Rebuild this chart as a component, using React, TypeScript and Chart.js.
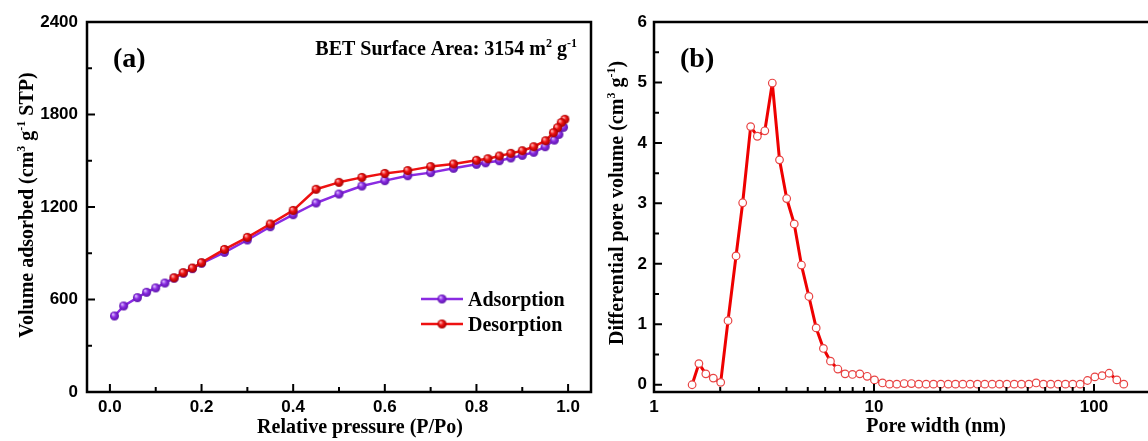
import React, { useEffect, useRef } from 'react';
import { Chart, registerables } from 'chart.js';

Chart.register(...registerables);

// ---------- Panel (a): N2 isotherm ----------
const ADS_P = [0.01, 0.03, 0.06, 0.08, 0.10, 0.12, 0.14, 0.16, 0.18, 0.20, 0.25, 0.30, 0.35, 0.40, 0.45, 0.50, 0.55, 0.60, 0.65, 0.70, 0.75, 0.80, 0.82, 0.85, 0.875, 0.90, 0.925, 0.95, 0.97, 0.98, 0.99];
const ADS_V = [493, 558, 612, 647, 675, 707, 738, 770, 800, 835, 906, 986, 1072, 1150, 1226, 1284, 1336, 1371, 1403, 1423, 1451, 1477, 1487, 1500, 1518, 1535, 1555, 1591, 1634, 1671, 1717];
const DES_P = [0.993, 0.985, 0.977, 0.968, 0.951, 0.925, 0.90, 0.875, 0.85, 0.825, 0.80, 0.75, 0.70, 0.65, 0.60, 0.55, 0.50, 0.45, 0.40, 0.35, 0.30, 0.25, 0.20, 0.18, 0.16, 0.14];
const DES_V = [1769, 1747, 1714, 1682, 1630, 1591, 1565, 1548, 1531, 1513, 1503, 1479, 1462, 1436, 1418, 1392, 1360, 1315, 1178, 1090, 1003, 925, 839, 804, 774, 741];

const A_X_TICKS = [0, 0.2, 0.4, 0.6, 0.8, 1.0];
const A_X_MINOR = [0.1, 0.3, 0.5, 0.7, 0.9];
const A_Y_TICKS = [0, 600, 1200, 1800, 2400];
const A_Y_MINOR = [300, 900, 1500, 2100];

// ---------- Panel (b): pore size distribution ----------
const PORE_W = [1.49, 1.60, 1.72, 1.86, 2.01, 2.17, 2.36, 2.53, 2.75, 2.95, 3.19, 3.45, 3.72, 4.01, 4.34, 4.68, 5.06, 5.46, 5.89, 6.34, 6.85, 7.39, 7.98, 8.62, 9.31, 10.05, 10.93, 11.76, 12.70, 13.71, 14.80, 15.98, 17.26, 18.64, 20.13, 21.74, 23.47, 25.34, 27.36, 29.54, 31.90, 34.45, 37.2, 40.2, 43.4, 46.8, 50.6, 54.6, 58.9, 63.6, 68.7, 74.2, 80.1, 86.5, 93.4, 100.9, 108.9, 117.2, 127.0, 136.6];
const DPV = [0, 0.35, 0.18, 0.11, 0.04, 1.06, 2.13, 3.01, 4.27, 4.11, 4.20, 4.99, 3.72, 3.08, 2.66, 1.98, 1.46, 0.94, 0.60, 0.39, 0.26, 0.18, 0.17, 0.18, 0.14, 0.08, 0.03, 0.01, 0.01, 0.02, 0.02, 0.01, 0.01, 0.01, 0.01, 0.01, 0.01, 0.01, 0.01, 0.01, 0.01, 0.01, 0.01, 0.01, 0.01, 0.01, 0.01, 0.03, 0.01, 0.01, 0.01, 0.01, 0.01, 0.01, 0.07, 0.13, 0.15, 0.19, 0.08, 0.01];

const B_X_TICKS = [1, 10, 100];
const B_X_MINOR = [2, 3, 4, 5, 6, 7, 8, 9, 20, 30, 40, 50, 60, 70, 80, 90];
const B_Y_TICKS = [0, 1, 2, 3, 4, 5, 6];
const B_Y_MINOR = [0.5, 1.5, 2.5, 3.5, 4.5, 5.5];

const SERIF = '"Liberation Serif", "Times New Roman", serif';
const SANS = '"Liberation Sans", Arial, sans-serif';
const PURPLE = '#8a2be2';
const RED = '#ee1111';

type Seg = { t: string; sup?: boolean };

function drawRich(ctx: CanvasRenderingContext2D, segs: Seg[], x: number, y: number, size: number, align: 'left' | 'center' | 'right') {
  ctx.save();
  const supSize = Math.round(size * 0.6);
  const widths = segs.map((s) => {
    ctx.font = `bold ${s.sup ? supSize : size}px ${SERIF}`;
    return ctx.measureText(s.t).width;
  });
  const total = widths.reduce((a, b) => a + b, 0);
  let cx = align === 'left' ? x : align === 'center' ? x - total / 2 : x - total;
  ctx.textAlign = 'left';
  ctx.textBaseline = 'alphabetic';
  ctx.fillStyle = '#000';
  segs.forEach((s, i) => {
    ctx.font = `bold ${s.sup ? supSize : size}px ${SERIF}`;
    ctx.fillText(s.t, cx, s.sup ? y - size * 0.42 : y);
    cx += widths[i];
  });
  ctx.restore();
}

function makeSphere(base: string, light: string, dark: string, r: number): HTMLCanvasElement {
  const c = document.createElement('canvas');
  const s = Math.ceil(r * 2 + 2);
  c.width = s;
  c.height = s;
  const g = c.getContext('2d')!;
  const cx = s / 2;
  const grad = g.createRadialGradient(cx - r * 0.35, cx - r * 0.4, r * 0.1, cx, cx, r);
  grad.addColorStop(0, light);
  grad.addColorStop(0.45, base);
  grad.addColorStop(1, dark);
  g.fillStyle = grad;
  g.beginPath();
  g.arc(cx, cx, r, 0, Math.PI * 2);
  g.fill();
  return c;
}

function tickFont(): any {
  return { family: SANS, size: 17, weight: 'bold' };
}

export default function App() {
  const refA = useRef<HTMLCanvasElement>(null);
  const refB = useRef<HTMLCanvasElement>(null);

  useEffect(() => {
    const purpleSphere = makeSphere(PURPLE, '#d9b8ff', '#5a14a8', 4.5);
    const redSphere = makeSphere(RED, '#ffb0b0', '#a00000', 4.5);

    const panelA = {
      id: 'panelA',
      afterDraw(chart: any) {
        const ctx: CanvasRenderingContext2D = chart.ctx;
        const { left, right, top, bottom } = chart.chartArea;
        const xs = chart.scales.x;
        const ys = chart.scales.y;
        ctx.save();
        ctx.strokeStyle = '#000';
        ctx.lineWidth = 2.5;
        ctx.strokeRect(left, top, right - left, bottom - top);
        ctx.lineWidth = 2;
        ctx.beginPath();
        A_X_TICKS.forEach((v) => { const p = xs.getPixelForValue(v); ctx.moveTo(p, bottom); ctx.lineTo(p, bottom - 8); });
        A_X_MINOR.forEach((v) => { const p = xs.getPixelForValue(v); ctx.moveTo(p, bottom); ctx.lineTo(p, bottom - 5); });
        A_Y_TICKS.forEach((v) => { const p = ys.getPixelForValue(v); ctx.moveTo(left, p); ctx.lineTo(left + 8, p); });
        A_Y_MINOR.forEach((v) => { const p = ys.getPixelForValue(v); ctx.moveTo(left, p); ctx.lineTo(left + 5, p); });
        ctx.stroke();

        drawRich(ctx, [{ t: 'Relative pressure (P/Po)' }], 360, 433, 20, 'center');
        ctx.save();
        ctx.translate(33, 205);
        ctx.rotate(-Math.PI / 2);
        drawRich(ctx, [{ t: 'Volume adsorbed (cm' }, { t: '3', sup: true }, { t: ' g' }, { t: '-1', sup: true }, { t: ' STP)' }], 0, 0, 20, 'center');
        ctx.restore();

        drawRich(ctx, [{ t: '(a)' }], 113, 67, 28, 'left');
        drawRich(ctx, [{ t: 'BET Surface Area: 3154 m' }, { t: '2', sup: true }, { t: ' g' }, { t: '-1', sup: true }], 577, 55, 20, 'right');

        const items = [
          { label: 'Adsorption', color: PURPLE, img: purpleSphere, y: 299 },
          { label: 'Desorption', color: RED, img: redSphere, y: 324 },
        ];
        items.forEach((it) => {
          ctx.strokeStyle = it.color;
          ctx.lineWidth = 2.5;
          ctx.beginPath();
          ctx.moveTo(421, it.y);
          ctx.lineTo(463, it.y);
          ctx.stroke();
          ctx.drawImage(it.img, 442 - it.img.width / 2, it.y - it.img.height / 2);
          drawRich(ctx, [{ t: it.label }], 468, it.y + 7, 20, 'left');
        });
        ctx.restore();
      },
    };

    const chartA = new Chart(refA.current!, {
      type: 'scatter',
      data: {
        datasets: [
          {
            label: 'Desorption',
            data: DES_P.map((x, i) => ({ x, y: DES_V[i] })),
            showLine: true,
            borderColor: RED,
            borderWidth: 2.5,
            borderJoinStyle: 'round',
            pointStyle: redSphere as any,
            pointRadius: 4.5,
            order: 0,
          },
          {
            label: 'Adsorption',
            data: ADS_P.map((x, i) => ({ x, y: ADS_V[i] })),
            showLine: true,
            borderColor: PURPLE,
            borderWidth: 2.5,
            borderJoinStyle: 'round',
            pointStyle: purpleSphere as any,
            pointRadius: 4.5,
            order: 1,
          },
        ],
      },
      options: {
        animation: false,
        responsive: false,
        layout: { padding: { top: 22, right: 9, left: 0, bottom: 0 }, autoPadding: false } as any,
        plugins: { legend: { display: false }, tooltip: { enabled: false } },
        scales: {
          x: {
            type: 'linear',
            min: -0.05,
            max: 1.05,
            grid: { display: false, drawTicks: false },
            border: { display: false },
            ticks: { font: tickFont(), color: '#000', padding: 5, callback: (v: any) => Number(v).toFixed(1) },
            afterBuildTicks: (s: any) => { s.ticks = A_X_TICKS.map((value) => ({ value })); },
            afterFit: (s: any) => { s.height = 49; },
          },
          y: {
            type: 'linear',
            min: 0,
            max: 2400,
            grid: { display: false, drawTicks: false },
            border: { display: false },
            ticks: { font: tickFont(), color: '#000', padding: 9, callback: (v: any) => String(v) },
            afterBuildTicks: (s: any) => { s.ticks = A_Y_TICKS.map((value) => ({ value })); },
            afterFit: (s: any) => { s.width = 87; },
          },
        },
      } as any,
      plugins: [panelA],
    });

    const panelB = {
      id: 'panelB',
      afterDraw(chart: any) {
        const ctx: CanvasRenderingContext2D = chart.ctx;
        const { left, right, top, bottom } = chart.chartArea;
        const xs = chart.scales.x;
        const ys = chart.scales.y;
        ctx.save();
        ctx.strokeStyle = '#000';
        ctx.lineWidth = 2.5;
        ctx.beginPath();
        ctx.moveTo(right + 2, top);
        ctx.lineTo(left, top);
        ctx.lineTo(left, bottom);
        ctx.lineTo(right + 2, bottom);
        ctx.stroke();
        ctx.lineWidth = 2;
        ctx.beginPath();
        B_X_TICKS.forEach((v) => { const p = xs.getPixelForValue(v); ctx.moveTo(p, bottom); ctx.lineTo(p, bottom - 8); });
        B_X_MINOR.forEach((v) => { const p = xs.getPixelForValue(v); ctx.moveTo(p, bottom); ctx.lineTo(p, bottom - 5); });
        B_Y_TICKS.forEach((v) => { const p = ys.getPixelForValue(v); ctx.moveTo(left, p); ctx.lineTo(left + 8, p); });
        B_Y_MINOR.forEach((v) => { const p = ys.getPixelForValue(v); ctx.moveTo(left, p); ctx.lineTo(left + 5, p); });
        ctx.stroke();

        drawRich(ctx, [{ t: 'Pore width (nm)' }], 336, 432, 20, 'center');
        ctx.save();
        ctx.translate(23, 203);
        ctx.rotate(-Math.PI / 2);
        drawRich(ctx, [{ t: 'Differential pore volume (cm' }, { t: '3', sup: true }, { t: ' g' }, { t: '-1', sup: true }, { t: ')' }], 0, 0, 20, 'center');
        ctx.restore();
        drawRich(ctx, [{ t: '(b)' }], 80, 67, 28, 'left');
        ctx.restore();
      },
    };

    const chartB = new Chart(refB.current!, {
      type: 'scatter',
      data: {
        datasets: [
          {
            label: 'Pore size distribution',
            data: PORE_W.map((x, i) => ({ x, y: DPV[i] })),
            showLine: true,
            borderColor: '#ee0000',
            borderWidth: 3,
            borderJoinStyle: 'round',
            pointStyle: 'circle',
            pointRadius: 3.8,
            pointBorderWidth: 1.2,
            pointBorderColor: '#e84444',
            pointBackgroundColor: '#ffffff',
          },
        ],
      },
      options: {
        animation: false,
        responsive: false,
        layout: { padding: { top: 22, right: 0, left: 0, bottom: 0 }, autoPadding: false } as any,
        plugins: { legend: { display: false }, tooltip: { enabled: false } },
        scales: {
          x: {
            type: 'logarithmic',
            min: 1,
            max: 176,
            grid: { display: false, drawTicks: false },
            border: { display: false },
            ticks: { font: tickFont(), color: '#000', padding: 5, callback: (v: any) => String(v) },
            afterBuildTicks: (s: any) => { s.ticks = B_X_TICKS.map((value) => ({ value })); },
            afterFit: (s: any) => { s.height = 49; },
          },
          y: {
            type: 'linear',
            min: -0.12,
            max: 6,
            grid: { display: false, drawTicks: false },
            border: { display: false },
            ticks: { font: tickFont(), color: '#000', padding: 7, callback: (v: any) => String(v) },
            afterBuildTicks: (s: any) => { s.ticks = B_Y_TICKS.map((value) => ({ value })); },
            afterFit: (s: any) => { s.width = 54; },
          },
        },
      } as any,
      plugins: [panelB],
    });

    return () => {
      chartA.destroy();
      chartB.destroy();
    };
  }, []);

  return (
    <div style={{ position: 'fixed', left: 0, top: 0, width: 1148, height: 441, overflow: 'hidden', background: '#fff' }}>
      <canvas ref={refA} width={600} height={441} style={{ position: 'absolute', left: 0, top: 0, width: 600, height: 441 }} />
      <canvas ref={refB} width={548} height={441} style={{ position: 'absolute', left: 600, top: 0, width: 548, height: 441 }} />
    </div>
  );
}
